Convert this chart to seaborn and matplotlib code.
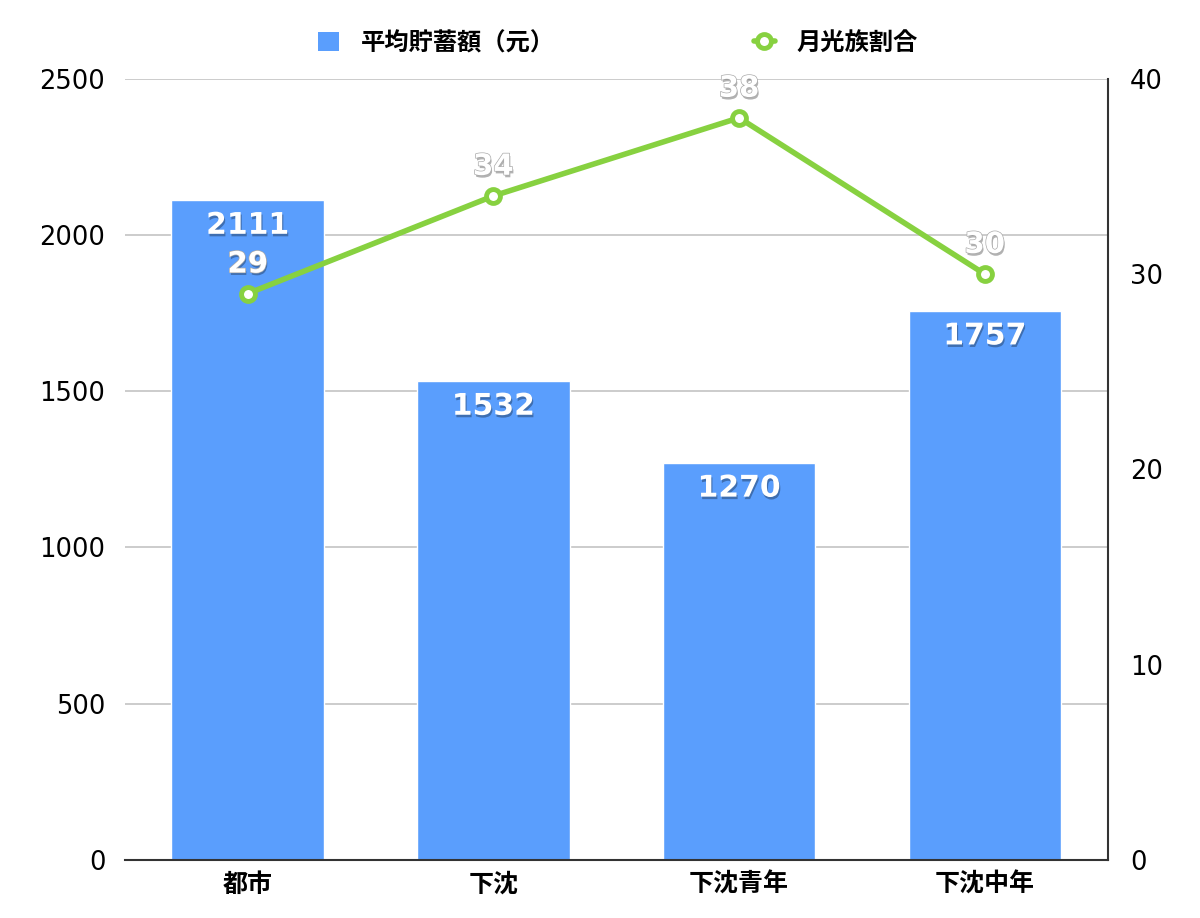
import numpy as np
import pandas as pd
import seaborn as sns
import matplotlib.pyplot as plt
import matplotlib.patheffects as pe
from matplotlib.lines import Line2D
from matplotlib.patches import Patch

# chart data
categories = ["都市", "下沈", "下沈青年", "下沈中年"]
savings = [2111, 1532, 1270, 1757]
moonlight_rate = [29, 34, 38, 30]

bar_name = "平均貯蓄額（元）"
line_name = "月光族割合"
left_ticks = [0, 500, 1000, 1500, 2000, 2500]
right_ticks = [0, 10, 20, 30, 40]

blue = "#5A9EFD"
green = "#87D140"

sns.set_style("white")
plt.rcParams["font.family"] = ["DejaVu Sans", "Noto Sans CJK JP"]
plt.rcParams["text.color"] = "black"
plt.rcParams["xtick.color"] = "black"
plt.rcParams["ytick.color"] = "black"

df = pd.DataFrame({"cat": categories, "savings": savings, "rate": moonlight_rate})

fig = plt.figure(figsize=(12, 9.18), dpi=100)
ax = fig.add_axes([0.104, 0.0632, 0.819, 0.851])

sns.barplot(data=df, x="cat", y="savings", color=blue, width=0.62,
            saturation=1, ax=ax, zorder=2)
ax.set_ylim(0, 2500)
ax.set_yticks(left_ticks)
ax.grid(axis="y", color="#c4c4c4", lw=1.2, zorder=0)
ax.set_axisbelow(True)
ax.set_xlabel("")
ax.set_ylabel("")
for s in ["left", "top", "right"]:
    ax.spines[s].set_visible(False)
ax.spines["bottom"].set_color("#333333")
ax.spines["bottom"].set_linewidth(1.5)
ax.tick_params(axis="y", length=0, pad=14, labelsize=18.5, labelcolor="black")
ax.tick_params(axis="x", length=0, pad=9, labelcolor="black")
for lab in ax.get_xticklabels():
    lab.set_fontsize(18)
    lab.set_fontweight("bold")

ax2 = ax.twinx()
sns.pointplot(data=df, x="cat", y="rate", color=green, ax=ax2,
              markers="o", lw=4, markersize=10, mfc="white", mew=3.5,
              errorbar=None, zorder=5)
ax2.set_ylim(0, 40)
ax2.set_yticks(right_ticks)
ax2.set_ylabel("")
ax2.set_xlabel("")
ax2.grid(False)
for s in ["left", "top", "bottom"]:
    ax2.spines[s].set_visible(False)
ax2.spines["right"].set_visible(True)
ax2.spines["right"].set_color("#333333")
ax2.spines["right"].set_linewidth(1.5)
ax2.tick_params(axis="y", length=0, pad=16, labelsize=18.5, labelcolor="black")
ax.set_xlim(-0.5, len(categories) - 0.5)
ax2.set_xlim(-0.5, len(categories) - 0.5)

shadow = [pe.SimplePatchShadow(offset=(0.8, -1.8), shadow_rgbFace="black", alpha=0.3),
          pe.Normal()]
for i, v in enumerate(savings):
    ax.annotate(str(v), (i, v), xytext=(0, -18), textcoords="offset points",
                ha="center", va="center", color="white", fontsize=21.5,
                fontweight="bold", path_effects=shadow, zorder=6)

outline = [pe.SimplePatchShadow(offset=(0.8, -1.8), shadow_rgbFace="black", alpha=0.3),
           pe.Stroke(linewidth=1, foreground="#aaaaaa"), pe.Normal()]
for i, v in enumerate(moonlight_rate):
    ax2.annotate(str(v), (i, v), xytext=(0, 21), textcoords="offset points",
                 ha="center", va="center", color="white", fontsize=21,
                 fontweight="bold", path_effects=outline, zorder=7)

handles = [Patch(facecolor=blue, edgecolor="none"),
           Line2D([0], [0], color=green, lw=4, marker="o", markersize=10,
                  mfc="white", mew=3.5)]
leg = fig.legend(handles, [bar_name, line_name], loc="upper center",
                 bbox_to_anchor=(0.515, 0.99), ncol=2, frameon=False,
                 columnspacing=8.2, handlelength=0.85, handleheight=0.85,
                 handletextpad=0.9, prop={"size": 17.5, "weight": "bold"})
for t in leg.get_texts():
    t.set_color("black")

fig.savefig("out.png", dpi=100)
